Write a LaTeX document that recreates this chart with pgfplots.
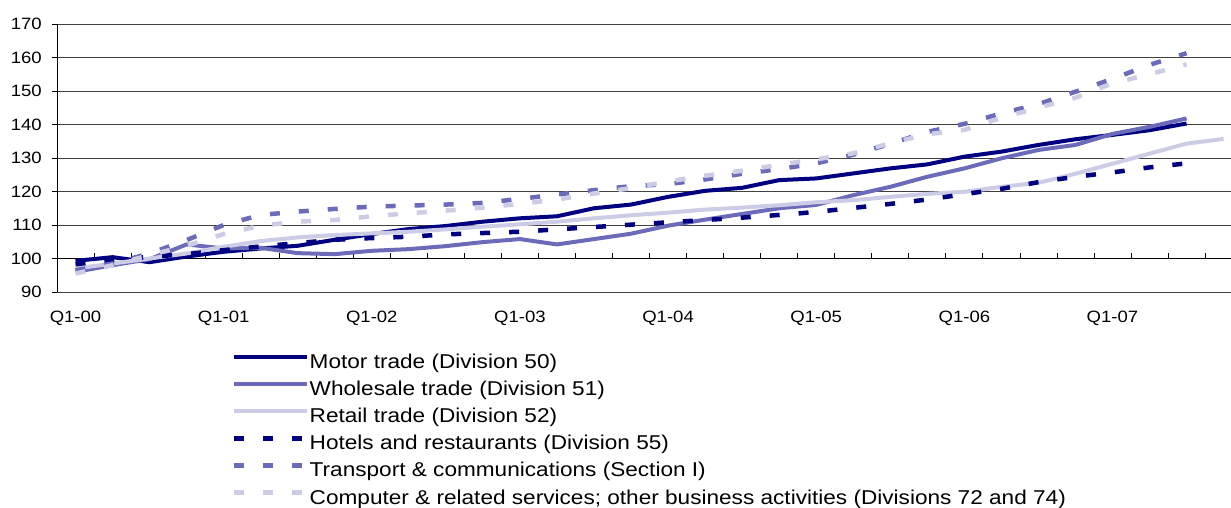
\documentclass[border=0pt]{standalone}
\usepackage{fontspec}
\setmainfont{Liberation Sans}[FakeStretch=1.13]
\usepackage{pgfplots}
\pgfplotsset{compat=1.18}
\definecolor{cNavy}{HTML}{000080}
\definecolor{cMid}{HTML}{6B6BBA}
\definecolor{cLight}{HTML}{CCCCE6}
\begin{document}
\begin{tikzpicture}
\begin{axis}[
  name=ax, at={(0pt,0pt)}, anchor=south west,
  scale only axis, width=1174pt, height=268pt,
  xmin=-0.5, xmax=31.2, ymin=90, ymax=170,
  axis y line*=left, axis x line*=bottom,
  x axis line style={draw=none},
  y axis line style={black, line width=0.8pt},
  ytick={90,100,...,170},
  tick align=outside,
  major tick length=5pt,
  ytick style={black, line width=0.8pt},
  xtick={0,4,8,12,16,20,24,28},
  xticklabels={Q1-00,Q1-01,Q1-02,Q1-03,Q1-04,Q1-05,Q1-06,Q1-07},
  xtick style={draw=none},
  ymajorgrids, grid style={black!75, line width=0.8pt},
  /pgf/number format/assume math mode=true,
  tick label style={font=\fontsize{16.4}{19}\selectfont},
  yticklabel style={inner sep=0pt, anchor=east, xshift=-10pt},
  xticklabel style={inner sep=0pt, anchor=north, yshift=-14pt},
  legend style={at={(0.1491,-0.2313)}, anchor=north west, draw=none, fill=none,
    inner sep=0pt, font=\fontsize{20}{23}\selectfont, row sep=8.2pt,
    nodes={inner sep=0pt, text height=14pt, text depth=5pt}},
  legend cell align=left,
  legend image code/.code={\draw[#1] (0pt,7pt) -- (73pt,7pt);},
  /tikz/every even column/.append style={column sep=2pt},
  clip=true,
]
\draw[black, line width=0.9pt] (axis cs:-0.5,100) -- (axis cs:31.2,100);
\pgfplotsinvokeforeach{0.5,1.5,...,30.5}{\draw[black, line width=0.8pt] (axis cs:#1,100) -- ++(0pt,6pt);}
\addplot[cNavy, line width=4pt, line join=round] coordinates {
(0,99.3)(1,100.4)(2,98.9)(3,100.6)(4,102.0)(5,103.0)(6,103.8)(7,105.6)(8,107.3)(9,108.8)(10,109.7)(11,111.0)(12,112.0)(13,112.6)(14,115.0)(15,116.1)(16,118.4)(17,120.2)(18,121.1)(19,123.4)(20,123.9)(21,125.4)(22,126.9)(23,128.1)(24,130.4)(25,131.9)(26,133.9)(27,135.6)(28,136.9)(29,138.3)(30,140.3)};
\addlegendentry{Motor trade (Division 50)}
\addplot[cMid, line width=4pt, line join=round] coordinates {
(0,96.0)(1,98.0)(2,99.8)(3,104.2)(4,103.0)(5,103.2)(6,101.6)(7,101.3)(8,102.3)(9,102.8)(10,103.7)(11,104.9)(12,105.8)(13,104.2)(14,105.8)(15,107.4)(16,109.8)(17,111.6)(18,113.3)(19,115.0)(20,116.0)(21,118.9)(22,121.4)(23,124.4)(24,126.9)(25,129.9)(26,132.4)(27,133.9)(28,137.2)(29,139.3)(30,141.8)};
\addlegendentry{Wholesale trade (Division 51)}
\addplot[cLight, line width=4pt, line join=round] coordinates {
(0,97.0)(1,98.5)(2,100.0)(3,101.5)(4,103.5)(5,105.2)(6,106.3)(7,107.0)(8,107.5)(9,108.0)(10,108.7)(11,109.5)(12,110.2)(13,111.0)(14,112.0)(15,112.9)(16,113.7)(17,114.6)(18,115.2)(19,115.9)(20,116.8)(21,117.4)(22,118.4)(23,119.3)(24,119.9)(25,121.4)(26,122.6)(27,125.3)(28,128.3)(29,131.3)(30,134.3)(31,135.7)};
\addlegendentry{Retail trade (Division 52)}
\addplot[cNavy, line width=4.5pt, dash pattern=on 10pt off 19pt] coordinates {
(0,98.3)(1,99.5)(2,100.5)(3,101.3)(4,102.5)(5,103.6)(6,104.6)(7,105.6)(8,106.1)(9,106.5)(10,107.2)(11,107.6)(12,108.0)(13,108.7)(14,109.4)(15,110.1)(16,110.8)(17,111.5)(18,112.2)(19,113.0)(20,113.9)(21,115.1)(22,116.3)(23,117.6)(24,119.2)(25,120.8)(26,122.8)(27,124.4)(28,125.7)(29,127.2)(30,128.4)};
\addlegendentry{Hotels and restaurants (Division 55)}
\addplot[cMid, line width=4.5pt, dash pattern=on 10pt off 19pt] coordinates {
(0,96.5)(1,98.5)(2,101.5)(3,105.5)(4,110.0)(5,113.0)(6,114.0)(7,114.8)(8,115.5)(9,115.8)(10,116.1)(11,116.6)(12,117.8)(13,119.1)(14,120.4)(15,121.6)(16,122.2)(17,123.6)(18,125.3)(19,126.7)(20,128.4)(21,131.0)(22,134.2)(23,137.8)(24,140.2)(25,143.3)(26,146.1)(27,149.8)(28,153.6)(29,157.8)(30,161.3)};
\addlegendentry{Transport \& communications (Section I)}
\addplot[cLight, line width=4.5pt, dash pattern=on 10pt off 19pt] coordinates {
(0,95.5)(1,98.0)(2,101.0)(3,103.8)(4,107.3)(5,109.8)(6,111.0)(7,111.5)(8,112.6)(9,113.5)(10,114.3)(11,115.2)(12,116.3)(13,117.6)(14,119.4)(15,121.0)(16,123.0)(17,124.7)(18,126.2)(19,128.0)(20,129.6)(21,131.4)(22,134.4)(23,137.1)(24,138.4)(25,142.0)(26,145.0)(27,148.0)(28,152.3)(29,155.0)(30,158.0)};
\addlegendentry{Computer \& related services; other business activities (Divisions 72 and 74)}
\end{axis}
\pgfresetboundingbox
\path[use as bounding box] (-57pt,-215pt) rectangle (1174pt,292pt);
\end{tikzpicture}
\end{document}
